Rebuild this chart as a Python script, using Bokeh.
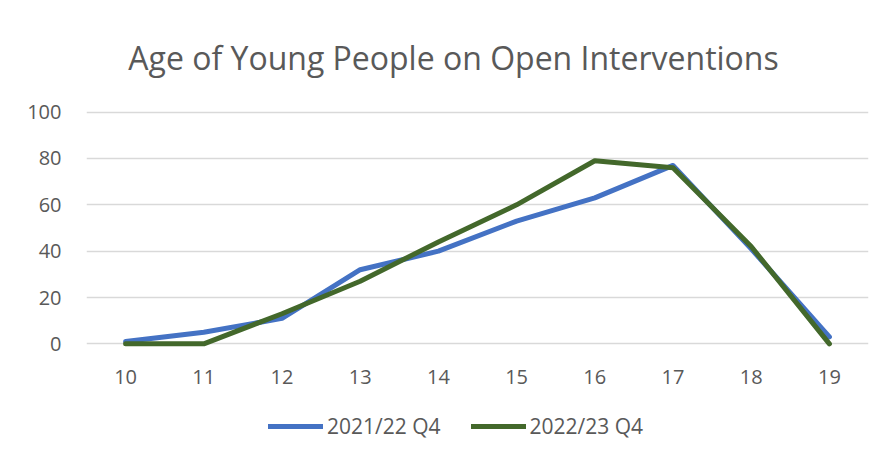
from bokeh.plotting import figure
from bokeh.models import Legend, LegendItem, Range1d, Label
from bokeh.layouts import column
from bokeh.embed import file_html
from bokeh.resources import INLINE

ages = ["10", "11", "12", "13", "14", "15", "16", "17", "18", "19"]
series_2021_22 = [1, 5, 11, 32, 40, 53, 63, 77, 41, 3]
series_2022_23 = [0, 0, 13, 27, 44, 60, 79, 76, 42, 0]
series_names = ["2021/22 Q4", "2022/23 Q4"]
y_ticks = [0, 20, 40, 60, 80, 100]
chart_title = "Age of Young People on Open Interventions"

FONT = "Open Sans"
TXT = "#595959"
BLUE = "#4472C4"
GREEN = "#43682B"
W = 880


def strip(h, x_range, y_range):
    f = figure(width=W, height=h, x_range=x_range, y_range=y_range,
               output_backend="svg", toolbar_location=None,
               x_axis_type=None, y_axis_type=None, min_border=0)
    f.outline_line_color = None
    f.grid.visible = False
    return f


# title strip (frame is aligned with the main chart's frame: page x 86..868)
t = strip(90, Range1d(86, 868), Range1d(0, 90))
t.add_layout(Label(x=453, y=33, text=chart_title, text_font=FONT, text_font_size="32px",
                   text_color=TXT, text_align="center", text_baseline="middle"))

# main chart
p = figure(x_range=ages, y_range=Range1d(-2, 102), width=W, height=305,
           output_backend="svg", toolbar_location=None,
           min_border_left=86, min_border_right=12, min_border_top=17, min_border_bottom=47)
p.outline_line_color = None

p.line(ages, series_2021_22, line_color=BLUE, line_width=5, line_join="round", line_cap="round")
p.line(ages, series_2022_23, line_color=GREEN, line_width=5, line_join="round", line_cap="round")

p.xgrid.grid_line_color = None
p.ygrid.grid_line_color = "#d9d9d9"
p.ygrid.grid_line_width = 1.5
p.yaxis.ticker = y_ticks

for ax in (p.xaxis[0], p.yaxis[0]):
    ax.axis_line_color = None
    ax.major_tick_line_color = None
    ax.minor_tick_line_color = None
    ax.major_label_text_font = FONT
    ax.major_label_text_font_size = "20px"
    ax.major_label_text_color = TXT
p.yaxis.major_label_standoff = 19
p.xaxis.major_label_standoff = 15

# legend strip: same series drawn out of view, so legend glyphs render
lg = strip(57, p.x_range, Range1d(200, 257))
l1 = lg.line(ages, series_2021_22, line_color=BLUE, line_width=5, line_cap="round")
l2 = lg.line(ages, series_2022_23, line_color=GREEN, line_width=5, line_cap="round")
legend = Legend(items=[LegendItem(label=series_names[0], renderers=[l1]),
                       LegendItem(label=series_names[1], renderers=[l2])],
                orientation="horizontal", location=(182, 12),
                glyph_width=55, glyph_height=20, label_standoff=4, spacing=30,
                padding=0, margin=0, border_line_color=None, background_fill_alpha=0,
                label_text_font=FONT, label_text_font_size="21px", label_text_color=TXT)
lg.add_layout(legend)

layout = column(t, p, lg, spacing=0)
open("out.html", "w").write(file_html(layout, INLINE))
